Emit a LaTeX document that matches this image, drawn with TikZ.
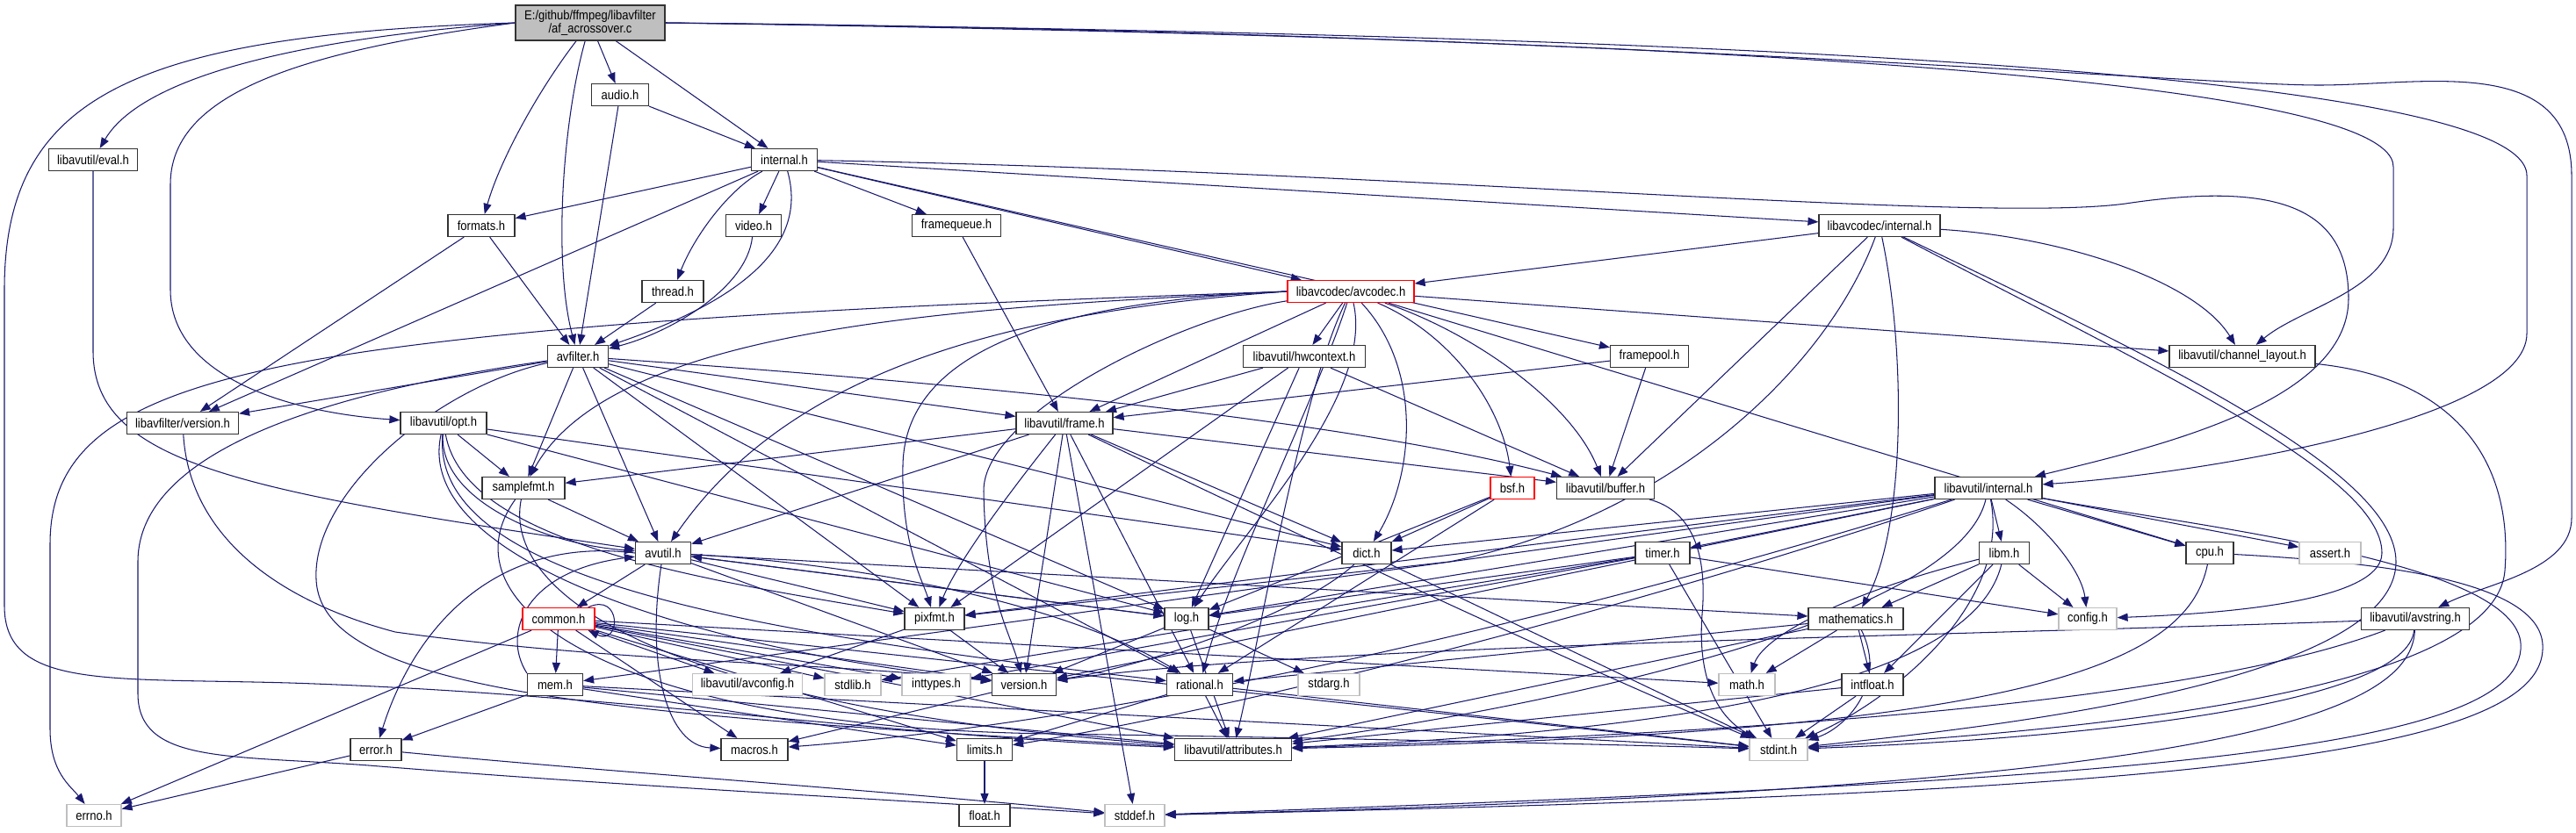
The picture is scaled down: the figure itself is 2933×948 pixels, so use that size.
\documentclass[tikz,border=0pt]{standalone}
\usepackage{fontspec}
\setmainfont{Liberation Sans}[FakeStretch=0.88]
\usetikzlibrary{arrows.meta}
\definecolor{navy}{HTML}{191970}
\pgfdeclarelayer{bg}
\pgfsetlayers{bg,main}
\tikzset{
  nd/.style={draw=black!80, line width=1.2pt, fill=white, minimum height=25pt, inner sep=0pt, text=black, font=\fontsize{14.8}{15.5}\selectfont},
  gr/.style={nd, draw=black!25},
  rd/.style={nd, draw=red},
  e/.style={navy, line width=1.05pt, -{Triangle[length=12pt,width=9pt]}},
}
\begin{document}
\begin{tikzpicture}[x=1pt,y=-1pt]
\useasboundingbox (0,0) rectangle (2933,948);
% nodes
\node[nd, minimum width=170pt, minimum height=40pt, fill=black!25, align=center] (root) at (672,26) {E:/github/ffmpeg/libavfilter\\/af\_acrossover.c};
\node[nd, minimum width=65pt] (audio) at (706,108) {audio.h};
\node[nd, minimum width=101pt] (eval) at (106,182) {libavutil/eval.h};
\node[nd, minimum width=75pt] (internal) at (893,182) {internal.h};
\node[nd, minimum width=76pt] (formats) at (548,257) {formats.h};
\node[nd, minimum width=63pt] (video) at (858,257) {video.h};
\node[nd, minimum width=101pt] (framequeue) at (1089,257) {framequeue.h};
\node[nd, minimum width=138pt] (lavcinternal) at (2140,257) {libavcodec/internal.h};
\node[nd, minimum width=70pt] (thread) at (766,332) {thread.h};
\node[rd, minimum width=144pt] (avcodec) at (1538,332) {libavcodec/avcodec.h};
\node[nd, minimum width=69pt] (avfilter) at (658,406) {avfilter.h};
\node[nd, minimum width=139pt] (hwcontext) at (1485,406) {libavutil/hwcontext.h};
\node[nd, minimum width=89pt] (framepool) at (1878,406) {framepool.h};
\node[nd, minimum width=166pt] (chlayout) at (2553,406) {libavutil/channel\_layout.h};
\node[nd, minimum width=127pt] (lavfiversion) at (208,482) {libavfilter/version.h};
\node[nd, minimum width=98pt] (opt) at (505,482) {libavutil/opt.h};
\node[nd, minimum width=110pt] (frame) at (1212,482) {libavutil/frame.h};
\node[nd, minimum width=94pt] (samplefmt) at (596,556) {samplefmt.h};
\node[rd, minimum width=50pt] (bsf) at (1722,556) {bsf.h};
\node[nd, minimum width=111pt] (buffer) at (1828,556) {libavutil/buffer.h};
\node[nd, minimum width=122pt] (lavuinternal) at (2264,556) {libavutil/internal.h};
\node[nd, minimum width=63pt] (avutil) at (755,630) {avutil.h};
\node[nd, minimum width=56pt] (dict) at (1556,630) {dict.h};
\node[nd, minimum width=62pt] (timer) at (1893,630) {timer.h};
\node[nd, minimum width=57pt] (libm) at (2282,630) {libm.h};
\node[nd, minimum width=54pt] (cpu) at (2516,630) {cpu.h};
\node[gr, minimum width=70pt] (assert) at (2653,630) {assert.h};
\node[rd, minimum width=82pt] (common) at (636,705) {common.h};
\node[nd, minimum width=68pt] (pixfmt) at (1064,705) {pixfmt.h};
\node[nd, minimum width=50pt] (log) at (1351,705) {log.h};
\node[nd, minimum width=108pt] (mathematics) at (2113,705) {mathematics.h};
\node[gr, minimum width=66pt] (config) at (2377,705) {config.h};
\node[nd, minimum width=123pt] (avstring) at (2750,705) {libavutil/avstring.h};
\node[nd, minimum width=63pt] (mem) at (632,780) {mem.h};
\node[gr, minimum width=125pt] (avconfig) at (851,780) {libavutil/avconfig.h};
\node[gr, minimum width=64pt] (stdlib) at (971,780) {stdlib.h};
\node[gr, minimum width=78pt] (inttypes) at (1066,780) {inttypes.h};
\node[nd, minimum width=73pt] (version) at (1166,780) {version.h};
\node[nd, minimum width=75pt] (rational) at (1366,780) {rational.h};
\node[gr, minimum width=70pt] (stdarg) at (1513,780) {stdarg.h};
\node[gr, minimum width=64pt] (math) at (1989,780) {math.h};
\node[nd, minimum width=70pt] (intfloat) at (2132,780) {intfloat.h};
\node[nd, minimum width=58pt] (error) at (428,854) {error.h};
\node[nd, minimum width=76pt] (macros) at (859,854) {macros.h};
\node[nd, minimum width=63pt] (limits) at (1121,854) {limits.h};
\node[nd, minimum width=133pt] (attributes) at (1404,854) {libavutil/attributes.h};
\node[gr, minimum width=66pt] (stdint) at (2025,854) {stdint.h};
\node[gr, minimum width=62pt] (errno) at (107,929) {errno.h};
\node[nd, minimum width=58pt] (float) at (1121,929) {float.h};
\node[gr, minimum width=68pt] (stddef) at (1292,929) {stddef.h};

\begin{pgfonlayer}{bg}
\fill[white] (0,0) rectangle (2933,948);
% root
\draw[e] (root.west) .. controls (150,40) and (5,110) .. (5,330) -- (5,690) .. controls (5,785) and (120,772) .. (330,778) .. controls (700,790) and (1000,838) .. (attributes);
\draw[e] (root.west) .. controls (330,45) and (160,90) .. (eval);
\draw[e] (root.west) .. controls (330,60) and (194,110) .. (194,210) -- (194,330) .. controls (194,430) and (330,470) .. (opt);
\draw[e] (root) .. controls (615,100) and (570,180) .. (formats);
\draw[e] (root) .. controls (640,140) and (630,300) .. (avfilter);
\draw[e] (root) -- (audio);
\draw[e] (root) -- (internal);
\draw[e] (root.east) .. controls (1700,40) and (2725,75) .. (2725,190) -- (2725,260) .. controls (2725,330) and (2620,350) .. (chlayout);
\draw[e] (root.east) .. controls (1750,38) and (2877,70) .. (2877,200) -- (2877,380) .. controls (2877,480) and (2500,540) .. (lavuinternal);
\draw[e] (root.east) .. controls (1800,36) and (2500,97) .. (2640,97) .. controls (2760,97) and (2928,60) .. (2928,200) -- (2928,590) .. controls (2928,650) and (2830,665) .. (avstring);
% audio, eval
\draw[e] (audio) -- (avfilter);
\draw[e] (audio) -- (internal);
\draw[e] (eval) -- (106,400) .. controls (106,530) and (280,560) .. (avutil);
% internal
\draw[e] (internal) -- (formats);
\draw[e] (internal) -- (lavfiversion);
\draw[e] (internal) .. controls (830,215) and (790,270) .. (thread);
\draw[e] (internal) -- (video);
\draw[e] (internal) .. controls (915,260) and (880,330) .. (avfilter);
\draw[e] (internal) -- (framequeue);
\draw[e] (internal) -- (avcodec);
\draw[e] (internal) -- (framepool);
\draw[e] (internal) -- (lavcinternal);
\draw[e] (internal) .. controls (1600,195) and (2250,255) .. (2420,232) .. controls (2600,205) and (2674,240) .. (2674,340) .. controls (2674,460) and (2450,510) .. (lavuinternal);
% formats video thread framequeue
\draw[e] (formats) -- (avfilter);
\draw[e] (formats) -- (lavfiversion);
\draw[e] (video) .. controls (850,330) and (760,380) .. (avfilter);
\draw[e] (thread) -- (avfilter);
\draw[e] (framequeue) -- (frame);
% lavc internal
\draw[e] (lavcinternal) -- (avcodec);
\draw[e] (lavcinternal) .. controls (2350,270) and (2500,320) .. (chlayout);
\draw[e] (lavcinternal) -- (buffer);
\draw[e] (lavcinternal) .. controls (2080,420) and (1900,590) .. (1650,640) -- (pixfmt);
\draw[e] (lavcinternal) .. controls (2170,400) and (2170,600) .. (mathematics);
\draw[e] (lavcinternal) .. controls (2450,420) and (2712,540) .. (2712,630) .. controls (2712,690) and (2500,700) .. (config);
\draw[e] (lavcinternal) .. controls (2480,420) and (2728,540) .. (2728,640) .. controls (2728,780) and (2250,830) .. (stdint);
% avcodec
\draw[e] (avcodec.west) .. controls (1100,345) and (700,360) .. (420,400) .. controls (150,440) and (57,500) .. (57,620) -- (57,830) .. controls (57,880) and (80,895) .. (errno);
\draw[e] (avcodec.west) .. controls (1100,350) and (700,370) .. (samplefmt);
\draw[e] (avcodec.west) .. controls (1150,355) and (900,420) .. (avutil);
\draw[e] (avcodec) -- (frame);
\draw[e] (avcodec) -- (hwcontext);
\draw[e] (avcodec) .. controls (1680,380) and (1790,460) .. (buffer);
\draw[e] (avcodec) .. controls (1650,380) and (1710,460) .. (bsf);
\draw[e] (avcodec) .. controls (1620,420) and (1610,540) .. (dict);
\draw[e] (avcodec) .. controls (1565,450) and (1420,600) .. (log);
\draw[e] (avcodec.west) .. controls (1150,345) and (1030,420) .. (1028,530) .. controls (1026,620) and (1050,660) .. (pixfmt);
\draw[e] (avcodec) .. controls (1350,360) and (1118,470) .. (1120,560) .. controls (1122,680) and (1150,720) .. (version);
\draw[e] (avcodec) .. controls (1500,450) and (1400,650) .. (rational);
\draw[e] (avcodec) .. controls (1480,450) and (1430,750) .. (attributes);
\draw[e] (avcodec) -- (cpu);
\draw[e] (avcodec) -- (chlayout);
% avfilter
\draw[e] (avfilter) -- (lavfiversion);
\draw[e] (avfilter) -- (samplefmt);
\draw[e] (avfilter) -- (avutil);
\draw[e] (avfilter) -- (pixfmt);
\draw[e] (avfilter) -- (log);
\draw[e] (avfilter) -- (frame);
\draw[e] (avfilter) .. controls (1000,430) and (1500,470) .. (buffer);
\draw[e] (avfilter) -- (dict);
\draw[e] (avfilter) -- (rational);
\draw[e] (avfilter) .. controls (500,440) and (355,560) .. (360,660) .. controls (365,790) and (700,815) .. (attributes);
\draw[e] (avfilter) .. controls (420,440) and (157,500) .. (157,640) -- (157,790) .. controls (157,870) and (260,860) .. (420,872) .. controls (700,895) and (1000,910) .. (stddef);
% opt
\draw[e] (opt) -- (samplefmt);
\draw[e] (opt) .. controls (500,570) and (620,620) .. (avutil);
\draw[e] (opt) -- (dict);
\draw[e] (opt) -- (log);
\draw[e] (opt) .. controls (530,620) and (800,660) .. (pixfmt);
\draw[e] (opt) .. controls (490,660) and (850,720) .. (rational);
\draw[e] (opt) .. controls (470,640) and (800,740) .. (version);
% frame
\draw[e] (frame) -- (samplefmt);
\draw[e] (frame) -- (avutil);
\draw[e] (frame) -- (buffer);
\draw[e] (frame) -- (dict);
\draw[e] (frame) -- (rational);
\draw[e] (frame) .. controls (1150,560) and (1090,640) .. (pixfmt);
\draw[e] (frame) -- (version);
\draw[e] (frame) -- (stddef);
\draw[e] (frame) .. controls (1500,620) and (1800,760) .. (stdint);
% samplefmt
\draw[e] (samplefmt) -- (avutil);
\draw[e] (samplefmt) .. controls (575,660) and (700,800) .. (attributes);
\draw[e] (samplefmt) .. controls (500,690) and (700,830) .. (1200,836) .. controls (1600,842) and (1900,850) .. (stdint);
% bsf, buffer, hwcontext, framepool, chlayout
\draw[e] (bsf) -- (dict);
\draw[e] (bsf) -- (log);
\draw[e] (bsf) -- (rational);
\draw[e] (buffer) .. controls (1920,580) and (1945,620) .. (1938,700) .. controls (1932,780) and (1960,820) .. (stdint);
\draw[e] (hwcontext) -- (frame);
\draw[e] (hwcontext) -- (buffer);
\draw[e] (hwcontext) -- (log);
\draw[e] (hwcontext) -- (pixfmt);
\draw[e] (framepool) -- (buffer);
\draw[e] (framepool) -- (frame);
\draw[e] (chlayout) .. controls (2790,430) and (2862,520) .. (2852,650) .. controls (2840,800) and (2300,835) .. (stdint);
% libavutil/internal.h
\draw[e] (lavuinternal) -- (libm);
\draw[e] (lavuinternal) -- (cpu);
\draw[e] (lavuinternal) -- (assert);
\draw[e] (lavuinternal) .. controls (2330,600) and (2370,650) .. (config);
\draw[e] (lavuinternal) -- (dict);
\draw[e] (lavuinternal) -- (timer);
\draw[e] (lavuinternal) -- (log);
\draw[e] (lavuinternal) -- (pixfmt);
\draw[e] (lavuinternal) -- (mem);
\draw[e] (lavuinternal) -- (version);
\draw[e] (lavuinternal) .. controls (1800,700) and (1300,820) .. (macros);
\draw[e] (lavuinternal) .. controls (1900,680) and (1450,800) .. (limits);
\draw[e] (lavuinternal) .. controls (2230,700) and (1800,800) .. (attributes);
\draw[e] (lavuinternal) .. controls (2290,690) and (2150,800) .. (stdint);
\draw[e] (lavuinternal) .. controls (2500,600) and (2880,640) .. (2870,740) .. controls (2860,860) and (2400,890) .. (stddef);
% timer, libm, cpu
\draw[e] (timer) -- (config);
\draw[e] (timer) -- (log);
\draw[e] (timer) -- (stdlib);
\draw[e] (timer) -- (inttypes);
\draw[e] (timer) -- (stdint);
\draw[e] (libm) -- (config);
\draw[e] (libm) .. controls (2120,670) and (2010,720) .. (math);
\draw[e] (libm) -- (mathematics);
\draw[e] (libm) -- (intfloat);
\draw[e] (libm) .. controls (2250,760) and (2000,830) .. (attributes);
\draw[e] (cpu) .. controls (2490,760) and (2300,835) .. (attributes);
\draw[e] (cpu) .. controls (2700,640) and (2900,660) .. (2895,740) .. controls (2890,870) and (2400,905) .. (stddef);
% common
\draw[e] ([xshift=-8pt]common.north east) .. controls +(38,-18) and +(38,18) .. ([xshift=-8pt]common.south east);
\draw[e] (common) -- (errno);
\draw[e] (common) -- (mem);
\draw[e] (common) -- (avconfig);
\draw[e] (common) -- (stdlib);
\draw[e] (common) -- (inttypes);
\draw[e] (common) -- (limits);
\draw[e] (common) -- (math);
\draw[e] (common) -- (stdint);
\draw[e] (common) -- (attributes);
\draw[e] (common) -- (macros);
\draw[e] (common) -- (version);
% pixfmt, log, mathematics, intfloat, avstring
\draw[e] (pixfmt) -- (avconfig);
\draw[e] (pixfmt) -- (version);
\draw[e] (log) -- (stdarg);
\draw[e] (log) -- (avutil);
\draw[e] (log) -- (attributes);
\draw[e] (log) -- (version);
\draw[e] (mathematics) -- (math);
\draw[e] (mathematics) -- (intfloat);
\draw[e] (mathematics) -- (rational);
\draw[e] (mathematics) -- (attributes);
\draw[e] (mathematics) .. controls (2150,780) and (2100,830) .. (stdint);
\draw[e] (intfloat) -- (stdint);
\draw[e] (intfloat) -- (attributes);
\draw[e] (avstring) .. controls (2200,725) and (1500,735) .. (version);
\draw[e] (avstring) .. controls (2500,800) and (2000,835) .. (attributes);
\draw[e] (avstring) .. controls (2740,800) and (2400,840) .. (stdint);
\draw[e] (avstring) .. controls (2745,820) and (2500,900) .. (stddef);
% mem, version, rational, error, dict, limits
\draw[e] (mem.north west) .. controls (570,720) and (600,650) .. (avutil);
\draw[e] (mem) -- (error);
\draw[e] (mem) -- (limits);
\draw[e] (mem) -- (stdint);
\draw[e] (mem) -- (attributes);
\draw[e] (version) -- (macros);
\draw[e] (rational) -- (stdint);
\draw[e] (rational) -- (limits);
\draw[e] (rational) -- (attributes);
\draw[e] (error) -- (errno);
\draw[e] (error) .. controls (700,880) and (1000,900) .. (stddef);
\draw[e] (dict) -- (stdint);
\draw[e] (dict) .. controls (1480,700) and (1300,760) .. (version);
\draw[e] (limits) -- (float);
% avutil
\draw[e] (avutil) -- (common);
\draw[e] (avutil.west) .. controls (560,610) and (470,720) .. (error);
\draw[e] (avutil) .. controls (950,640) and (1200,680) .. (rational);
\draw[e] (avutil) -- (version);
\draw[e] (avutil) .. controls (735,760) and (760,850) .. (macros);
\draw[e] (avutil) -- (mathematics);
\draw[e] (avutil) -- (log);
\draw[e] (avutil) -- (pixfmt);
% libavfilter/version.h
\draw[e] (lavfiversion) .. controls (215,600) and (300,680) .. (450,720) .. controls (700,755) and (950,755) .. (version);
\end{pgfonlayer}
\end{tikzpicture}
\end{document}
